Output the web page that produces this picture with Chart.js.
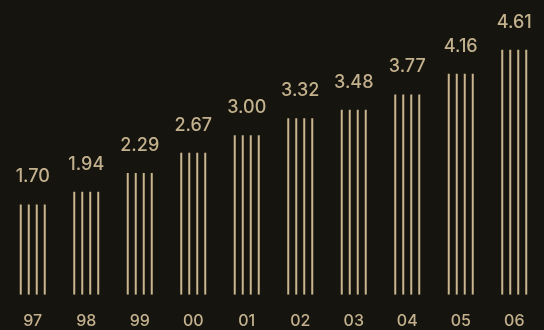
<!DOCTYPE html>
<html>
<head>
<meta charset="utf-8">
<script src="https://cdn.jsdelivr.net/npm/chart.js@4"></script>
<style>
  html, body { margin: 0; padding: 0; background: #16140f; }
  #wrap { width: 544px; height: 330px; }
</style>
</head>
<body>
<div id="wrap"><canvas id="myChart" width="544" height="330"></canvas></div>
<script>
const years = ['97', '98', '99', '00', '01', '02', '03', '04', '05', '06'];
const values = [1.70, 1.94, 2.29, 2.67, 3.00, 3.32, 3.48, 3.77, 4.16, 4.61];
const stripeCount = 4;

const lineColor = '#c9b58f';
const textColor = '#c3b18e';

// each year is drawn as four thin stripes, one dataset per stripe
const datasets = [];
for (let s = 0; s < stripeCount; s++) {
    datasets.push({
        data: values,
        backgroundColor: lineColor,
        borderWidth: 0,
        categoryPercentage: 0.598,
        barPercentage: 0.25
    });
}

// value labels above each group
const valueLabels = {
    id: 'valueLabels',
    afterDatasetsDraw(chart) {
        const ctx = chart.ctx;
        const x = chart.scales.x;
        const y = chart.scales.y;
        ctx.save();
        ctx.fillStyle = textColor;
        ctx.font = '500 18px Inter';
        ctx.textAlign = 'center';
        ctx.textBaseline = 'alphabetic';
        values.forEach((v, i) => {
            ctx.fillText(v.toFixed(2), x.getPixelForValue(i), y.getPixelForValue(v) - 22);
        });
        ctx.restore();
    }
};

let orders = document.getElementById('myChart');

var myChart = new Chart(orders, {
    type: 'bar',
    data: {
        labels: years,
        datasets: datasets
    },
    options: {
        responsive: false,
        animation: false,
        layout: {
            padding: { top: 29, left: 6, right: 3, bottom: -18 }
        },
        plugins: {
            legend: { display: false },
            tooltip: { enabled: false }
        },
        scales: {
            x: {
                grid: { display: false, drawTicks: false },
                border: { display: false },
                ticks: {
                    color: textColor,
                    font: { family: 'Inter', size: 16, weight: '500' },
                    padding: 17
                }
            },
            y: {
                display: false,
                min: 0,
                max: 5
            }
        }
    },
    plugins: [valueLabels]
});
</script>
</body>
</html>
